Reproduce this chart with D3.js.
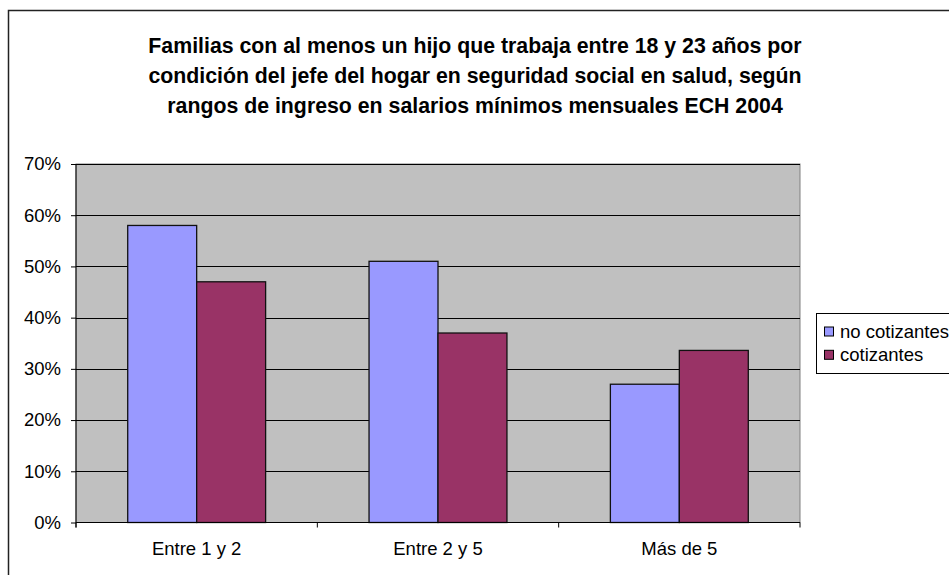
<!DOCTYPE html>
<html><head><meta charset="utf-8">
<script src="https://cdn.jsdelivr.net/npm/d3@7"></script>
<style>body{margin:0;background:#fff}svg{display:block;font-family:"Liberation Sans",Arial,sans-serif}</style>
</head><body>
<svg id="c" width="949" height="575"></svg>
<script>
const titleLines = ["Familias con al menos un hijo que trabaja entre 18 y 23 años por",
  "condición del jefe del hogar en seguridad social en salud, según",
  "rangos de ingreso en salarios mínimos mensuales ECH 2004"];
const categories = ["Entre 1 y 2", "Entre 2 y 5", "Más de 5"];
const seriesNames = ["no cotizantes", "cotizantes"];
const noCotizantes = [0.58, 0.51, 0.27];
const cotizantes = [0.47, 0.37, 0.336];
const yTicks = [0, 0.1, 0.2, 0.3, 0.4, 0.5, 0.6, 0.7];
const colors = ["#9999FF", "#993366"];

const FS = 18.5;
const svg = d3.select("#c");
svg.append("rect").attr("x", 8.5).attr("y", 10.5).attr("width", 960).attr("height", 600)
  .attr("fill", "#fff").attr("stroke", "#222").attr("stroke-width", 1.5);

const L = 76, R = 800, T = 164, B = 522.5;
const x = d3.scaleBand().domain(categories).range([L, R]);
const y = d3.scaleLinear().domain([0, 0.7]).range([B, T]);
const inner = d3.scaleBand().domain(seriesNames).range([0, x.bandwidth()]).paddingOuter(0.75).paddingInner(0);

svg.append("rect").attr("x", L).attr("y", T).attr("width", R - L).attr("height", B - T)
  .attr("fill", "#C0C0C0").attr("stroke", "#808080").attr("stroke-width", 1);

svg.append("g").selectAll("line").data(yTicks.slice(1)).join("line")
  .attr("x1", L).attr("x2", R).attr("y1", d => Math.round(y(d)) + 0.5).attr("y2", d => Math.round(y(d)) + 0.5)
  .attr("stroke", "#000").attr("stroke-width", 1);

const series = [noCotizantes, cotizantes];
categories.forEach((c, i) => {
  series.forEach((s, j) => {
    svg.append("rect")
      .attr("x", x(c) + inner(seriesNames[j]))
      .attr("y", y(s[i]))
      .attr("width", inner.bandwidth())
      .attr("height", y(0) - y(s[i]))
      .attr("fill", colors[j]).attr("stroke", "#111").attr("stroke-width", 1.3);
  });
});

const yAxis = d3.axisLeft(y).tickValues(yTicks).tickFormat(d3.format(".0%")).tickSize(5).tickPadding(10);
const gy = svg.append("g").attr("transform", `translate(${L},0)`).call(yAxis);
gy.select(".domain").attr("stroke", "#000").attr("d", `M0,${T}V${B + 5}`);
gy.selectAll("text").attr("font-size", FS).attr("fill", "#000").attr("font-family", "Liberation Sans, Arial, sans-serif");

const xAxis = d3.axisBottom(x).tickSize(0).tickPadding(19);
const gx = svg.append("g").attr("transform", `translate(0,${B})`).call(xAxis);
gx.select(".domain").attr("stroke", "#000").attr("d", `M${L},0H${R}`);
gx.selectAll("text").attr("font-size", FS).attr("fill", "#000").attr("font-family", "Liberation Sans, Arial, sans-serif");
const bounds = [L].concat(categories.map(c => x(c) + x.bandwidth()));
svg.append("g").selectAll("line").data(bounds).join("line")
  .attr("x1", d => d).attr("x2", d => d).attr("y1", B).attr("y2", B + 5).attr("stroke", "#000");

svg.append("g").selectAll("text").data(titleLines).join("text")
  .attr("x", 475).attr("y", (d, i) => 53 + i * 30).attr("text-anchor", "middle")
  .attr("font-size", 21.3).attr("font-weight", "bold").attr("fill", "#000").text(d => d);

const lg = svg.append("g");
lg.append("rect").attr("x", 816.5).attr("y", 313.5).attr("width", 150).attr("height", 60)
  .attr("fill", "#fff").attr("stroke", "#000");
seriesNames.forEach((n, j) => {
  const cy = 331.5 + j * 23.3;
  lg.append("rect").attr("x", 824.5).attr("y", cy - 4.5).attr("width", 9).attr("height", 9)
    .attr("fill", colors[j]).attr("stroke", "#000");
  lg.append("text").attr("x", 840).attr("y", cy + 6.5).attr("font-size", FS).attr("fill", "#000").text(n);
});
</script>
</body></html>
